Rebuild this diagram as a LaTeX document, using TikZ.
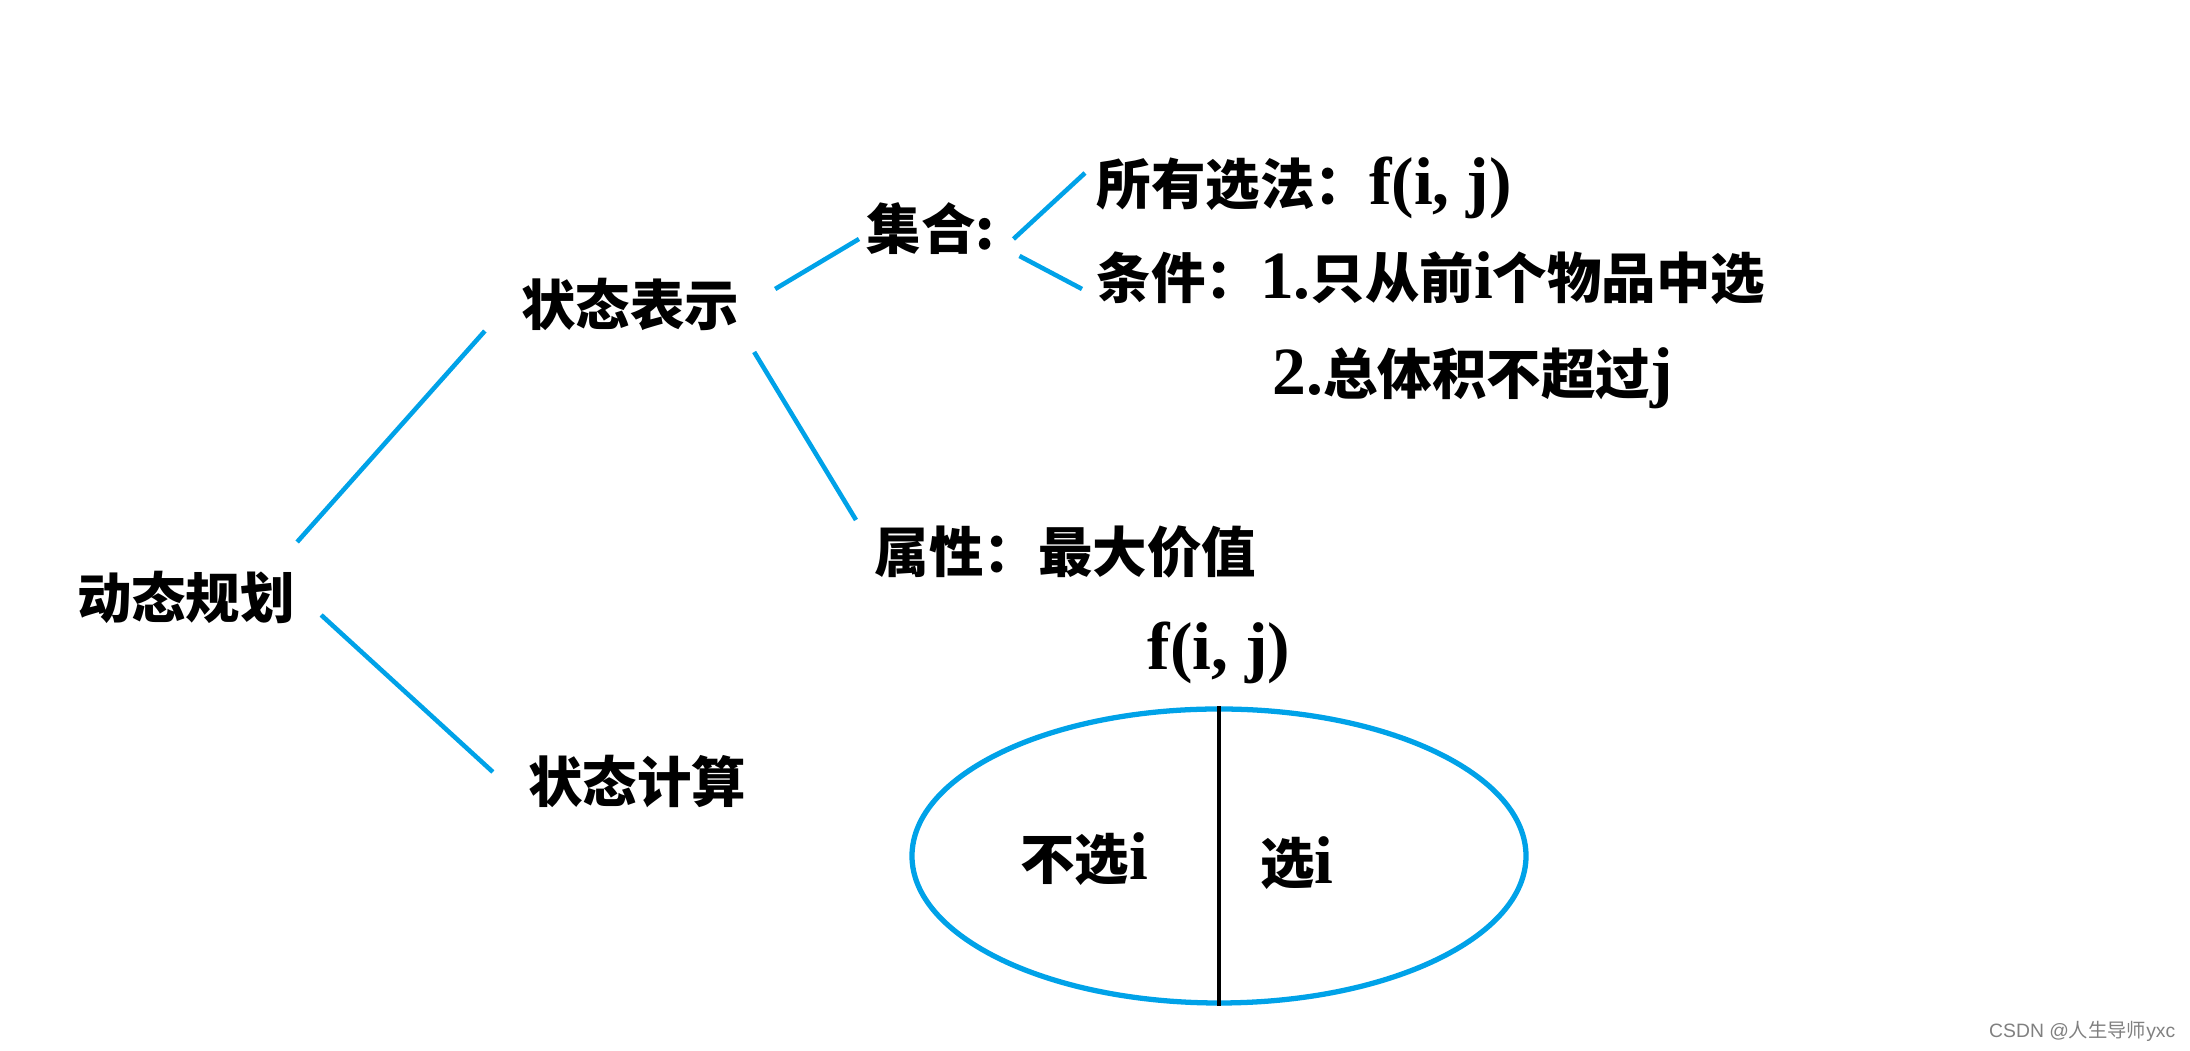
\documentclass[tikz,border=0pt]{standalone}
\usepackage{fontspec}
\setmainfont{Liberation Serif}[Scale=1.24]
\newfontfamily\cjk{Noto Sans CJK SC}
\newfontfamily\wmfont{Liberation Sans}
\usetikzlibrary{positioning, shapes.geometric}
\definecolor{csblue}{HTML}{00A2E8}

\begin{document}
\begin{tikzpicture}[
  every node/.style={font=\fontsize{15.5pt}{18pt}\selectfont\bfseries, inner sep=0pt},
  txt/.style={anchor=west},
  branch/.style={draw=csblue, line width=1.3pt},
]
\useasboundingbox (0,0) rectangle (21.9,10.51);

% tree of the state
\node (dp) at (1.86,4.54) {\cjk 动态规划};
\node (rep) at (6.30,7.47) {\cjk 状态表示};
\node (calc) at (6.37,2.69) {\cjk 状态计算};
\node[txt] (set) at (8.66,8.22) {\cjk 集合:};
\node[txt] (all) at (10.96,8.63) {{\cjk 所有选法：}f(i, j)};
\node[txt] (cond) at (10.96,7.73) {{\cjk 条件：}1.{\cjk 只从前}i{\cjk 个物品中选}};
\node[txt] (cond2) at (12.72,6.73) {2.{\cjk 总体积不超过}j};
\node[txt] (attr) at (8.74,4.99) {\cjk 属性：最大价值};

\draw[branch] ([shift={(0.015,0.55)}]dp.east) -- ([shift={(-0.355,-0.27)}]rep.west);
\draw[branch] ([shift={(0.255,-0.18)}]dp.east) -- ([shift={(-0.345,0.10)}]calc.west);
\draw[branch] ([shift={(0.355,0.15)}]rep.east) -- ([shift={(-0.07,-0.10)}]set.west);
\draw[branch] ([shift={(0.145,-0.48)}]rep.east) -- ([shift={(-0.18,0.32)}]attr.west);
\draw[branch] ([shift={(0.18,-0.10)}]set.east) -- ([shift={(-0.11,0.15)}]all.west);
\draw[branch] ([shift={(0.24,-0.27)}]set.east) -- ([shift={(-0.14,-0.11)}]cond.west);

% the set f(i, j) split in two
\node[ellipse, draw=csblue, line width=1.5pt, minimum width=6.14cm, minimum height=2.94cm] (pool) at (12.19,1.95) {};
\node[above=0.22cm of pool] (fij) {f(i, j)};
\draw[line width=1.2pt] (pool.north) -- (pool.south);
\node (skip) at (10.84,1.92) {{\cjk 不选}i};
\node (take) at (12.97,1.88) {{\cjk 选}i};

\node[anchor=east, font=\fontsize{5.5pt}{6pt}\selectfont, text=gray] (mark) at (21.76,0.20) {\wmfont CSDN @{\cjk 人生导师}yxc};
\end{tikzpicture}
\end{document}
